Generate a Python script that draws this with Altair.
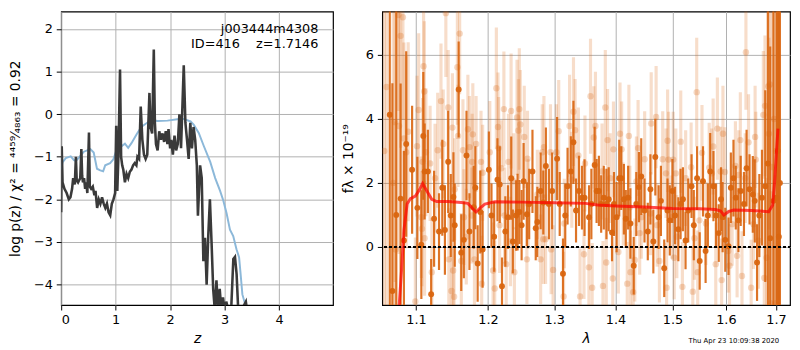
import altair as alt
import pandas as pd

FONT = "DejaVu Sans"

# ---------------- left panel: p(z) ----------------
z_pz = [0.0, 0.01, 0.025, 0.06, 0.10, 0.14, 0.17, 0.20, 0.22, 0.25, 0.27, 0.285, 0.31, 0.33, 0.35,
        0.37, 0.385, 0.40, 0.42, 0.44, 0.46, 0.48, 0.51, 0.525, 0.55, 0.58, 0.61, 0.63, 0.66, 0.69,
        0.72, 0.75, 0.78, 0.81, 0.84, 0.87, 0.90, 0.93, 0.96, 0.99, 1.01, 1.03, 1.05, 1.08, 1.10,
        1.12, 1.14, 1.17, 1.20, 1.23, 1.26, 1.29, 1.32, 1.35, 1.38, 1.40, 1.43, 1.46, 1.49, 1.52,
        1.55, 1.58, 1.62, 1.64, 1.67, 1.70, 1.72, 1.74, 1.77, 1.80, 1.83, 1.86, 1.89, 1.92, 1.95,
        1.97, 2.00, 2.02, 2.05, 2.08, 2.11, 2.14, 2.17, 2.20, 2.25, 2.28, 2.31, 2.34, 2.37, 2.40,
        2.43, 2.46, 2.49, 2.51, 2.55, 2.58, 2.61, 2.64, 2.67, 2.70, 2.73, 2.76, 2.79, 2.82, 2.85,
        2.88, 2.91, 2.94, 2.97, 3.00, 3.03, 3.07, 3.12, 3.16, 3.19, 3.22, 3.25, 3.30, 3.35, 3.39, 3.41]
logp = [-2.3, -0.75, -1.6, -1.75, -1.85, -2.0, -1.95, -1.75, -1.5, -1.65, -1.0, -1.55, -1.6, -1.55, -1.5,
        -0.82, -1.45, -1.6, -1.5, -1.75, -1.6, -1.85, -0.43, -1.7, -1.75, -1.7, -1.9, -1.8, -2.2, -2.0,
        -2.1, -1.95, -2.1, -2.2, -2.1, -2.3, -2.37, -2.1, -2.0, -1.85, -0.27, -1.8, -1.0, 1.05, -1.0,
        -1.2, -1.3, -1.6, -1.4, -1.5, -1.35, -1.3, -1.2, -1.15, -1.2, -1.0, -1.05, 0.18, -0.6, -0.95,
        -1.05, -0.95, 0.5, -0.3, -0.45, 1.52, -0.2, -0.7, -0.85, -0.4, -0.6, -0.45, -0.65, -0.4, -0.7,
        -0.35, -0.8, -0.6, -0.95, -0.5, -0.85, -0.7, 0.0, -0.8, 1.15, -0.2, -0.6, -1.05, -0.2, -0.8,
        -0.3, -0.6, -1.2, -2.38, -1.2, -1.5, -3.45, -2.9, -4.0, -2.85, -2.0, -3.0, -4.1, -4.6, -3.9,
        -4.6, -4.1, -4.6, -4.3, -4.6, -4.4, -4.6, -4.6, -3.4, -3.35, -3.75, -4.6, -4.6, -4.5, -4.4, -4.6]

z_prior = [0.0, 0.024, 0.084, 0.175, 0.235, 0.27, 0.325, 0.416, 0.536, 0.597, 0.657, 0.717, 0.77,
           0.808, 0.898, 0.958, 1.019, 1.109, 1.17, 1.23, 1.29, 1.38, 1.47, 1.59, 1.71, 1.77, 1.95,
           2.13, 2.25, 2.375, 2.435, 2.525, 2.616, 2.736, 2.827, 2.917, 2.977, 3.037, 3.098, 3.158,
           3.218, 3.266, 3.29, 3.326, 3.368, 3.40, 3.45]
logp_prior = [-1.3, -1.13, -1.03, -0.99, -1.08, -1.1, -1.02, -0.88, -0.82, -0.9, -1.28, -1.32, -1.34,
              -1.2, -1.15, -1.06, -0.83, -0.75, -0.69, -0.79, -0.68, -0.48, -0.30, -0.19, -0.15, -0.16,
              -0.15, -0.12, -0.11, -0.17, -0.25, -0.44, -0.74, -1.12, -1.5, -1.8, -2.03, -2.33, -2.71,
              -2.86, -3.17, -3.36, -3.7, -4.23, -4.42, -4.5, -4.7]

label_z = [4.72, 4.72]
label_v = [1.90, 1.55]
label_txt = ["j003444m4308", "ID=416\u00a0\u00a0\u00a0\u00a0z=1.7146"]

# ---------------- right panel: spectrum ----------------
lam_dark = [1.0656, 1.0690, 1.0740, 1.0797, 1.0840, 1.0870, 1.0948, 1.1018, 1.1071, 1.1097, 1.1115,
            1.1159, 1.1203, 1.1243, 1.1310, 1.1355, 1.1391, 1.1436, 1.1472, 1.1509, 1.1527, 1.1582,
            1.1618, 1.1655, 1.1692, 1.1734, 1.1795, 1.1818, 1.1851, 1.1889, 1.1922,
            1.2013, 1.2051, 1.2090, 1.2138, 1.2172, 1.2205, 1.2254, 1.2293, 1.2342, 1.2366, 1.2415,
            1.2437, 1.2464, 1.2498, 1.2528, 1.2578, 1.2613, 1.2663, 1.2713, 1.2738, 1.2789, 1.2830,
            1.2870, 1.2917, 1.2968, 1.3046, 1.3087, 1.3139, 1.3175, 1.3212, 1.3264, 1.3306, 1.3348,
            1.3396, 1.3444, 1.3486,
            1.3560, 1.3598, 1.3652, 1.3684, 1.3722, 1.3760, 1.3804, 1.3848, 1.3886, 1.3942, 1.3975,
            1.4019, 1.4064, 1.4098, 1.4143, 1.4176, 1.4216, 1.4255, 1.4312, 1.4357, 1.4403, 1.4443,
            1.4500, 1.4558, 1.4604, 1.4656, 1.4691, 1.4750, 1.4791, 1.4850, 1.4909, 1.4950, 1.4998,
            1.5046, 1.5106, 1.5147, 1.5190, 1.5238, 1.5287,
            1.5349, 1.5391, 1.5452, 1.5501, 1.5563, 1.5612, 1.5655, 1.5699, 1.5761, 1.5811, 1.5862,
            1.5906, 1.5937, 1.5988, 1.6051, 1.6096, 1.6147, 1.6192, 1.6244, 1.6289, 1.6353, 1.6405,
            1.6464, 1.6529, 1.6568, 1.6614, 1.6660, 1.6713, 1.6780, 1.6833, 1.6880, 1.6947, 1.7011,
            1.7058, 1.7035, 1.7080]
flux_dark = [4.13, -1.38, 1.0, 1.51, 0.2, 3.22, 2.41, 1.22, 0.07, 3.47, 2.36,
             2.36, -1.48, 0.88, 0.48, 1.85, 0.53, 2.66, 0.98, 1.56, 0.68, 4.92,
             -0.18, 0.22, 2.86, 0.48, 1.24, 1.85, -0.52, 1.09, -0.08,
             2.41, 0.98, 0.32, 2.10, 1.95, -1.23, 0.48, 0.93, 2.15, 0.17, 0.98,
             1.09, 1.09, 0.68, 2.05, 1.02, 1.34, 2.36, 0.58, 0.78, 1.75, 1.39,
             2.53, 1.34, 1.75, 2.76, 1.34, -0.84, 0.98, 1.90, 2.36, 3.27, 1.14,
             1.75, 1.54, 1.54,
             0.93, 1.34, 2.56, 1.75, 1.75, 1.34, 1.54, 1.34, 1.49, 0.45, 1.34,
             0.93, 2.15, 2.15, 1.49, 0.88, 1.54, 0.73, -0.59, 1.34, 1.87, 2.20,
             1.14, 0.48, 1.80, 0.17, 2.81, 0.93, 1.44, -0.67, 1.14, 0.83, 1.75,
             0.98, 0.55, 1.34, 1.49, 0.20, 1.14,
             1.90, 0.68, 2.15, -0.44, 2.05, -0.13, 0.98, 2.36, 1.90, 0.98, 0.43,
             1.49, 0.93, 0.22, 0.02, 1.85, 2.15, 1.54, 0.83, 1.75, 1.34, 2.46,
             1.80, 1.64, 1.44, -0.49, 0.98, 1.54, 1.90, 2.61, 0.27, 1.44, 1.54,
             0.32, 3.0, 2.0]
err_dark = [7.0, 6.5, 7.5, 3.6, 2.8, 2.9, 2.0, 1.6, 1.7, 2.0, 1.5,
            1.3, 1.1, 1.5, 1.2, 1.5, 1.4, 1.6, 1.3, 1.4, 1.3, 1.5,
            1.2, 1.2, 1.4, 1.2, 1.3, 1.3, 1.2, 1.3, 1.2,
            1.2, 1.0, 1.1, 1.3, 1.2, 0.9, 1.1, 1.0, 1.3, 1.0, 1.1,
            1.2, 1.0, 1.1, 1.2, 1.0, 1.1, 1.3, 1.0, 1.1, 1.2, 1.0,
            1.2, 1.1, 1.2, 1.3, 1.0, 1.1, 1.0, 1.2, 1.1, 1.3, 1.0,
            1.1, 1.0, 1.2,
            1.0, 1.1, 1.2, 1.0, 1.1, 0.9, 1.0, 1.1, 1.0, 0.9, 1.0,
            1.1, 1.2, 1.0, 1.1, 0.9, 1.0, 1.1, 0.9, 1.0, 1.1, 1.2,
            1.0, 0.9, 1.1, 1.0, 1.2, 1.0, 1.1, 0.9, 1.0, 1.1, 1.0,
            0.9, 1.0, 1.1, 1.0, 0.9, 1.0,
            1.0, 1.1, 1.0, 0.9, 1.1, 1.0, 1.0, 1.2, 1.1, 1.0, 0.9,
            1.0, 1.1, 1.0, 0.9, 1.1, 1.2, 1.0, 1.0, 1.1, 1.0, 1.2,
            1.1, 1.2, 1.3, 1.2, 1.3, 1.5, 3.0, 5.0, 6.0, 7.0, 9.0,
            8.0, 9.0, 9.0]

lam_light = [1.0767, 1.0827, 1.0797, 1.0724, 1.0776, 1.0840, 1.0896, 1.0870, 1.1013, 1.1035, 1.1101,
             1.1110, 1.1132, 1.1088, 1.1189, 1.1337, 1.1404, 1.1436, 1.1368, 1.1292, 1.1495, 1.1564,
             1.1596, 1.1573, 1.1642, 1.1712, 1.1735, 1.1782, 1.1829, 1.1923, 1.1899, 1.1772, 1.1079,
             1.1114, 1.1445, 1.1505, 1.1518, 1.1619, 1.1482, 1.0991, 1.1212, 1.1909, 1.0733, 1.1070,
             1.1256, 1.1527, 1.1656, 1.1768, 1.1689, 1.1805, 1.0585, 1.0615, 1.0700,
             1.2122, 1.2233, 1.2340, 1.2463, 1.2429, 1.2146, 1.2478, 1.2449, 1.2538, 1.2026, 1.2156,
             1.2301, 1.2194, 1.2380, 1.2587, 1.2840, 1.2814, 1.2942, 1.3071, 1.3035, 1.3244, 1.3307,
             1.3333, 1.3386, 1.3493, 1.3280, 1.2738, 1.2598, 1.2243, 1.2170, 1.2331, 1.2830, 1.2865,
             1.2952, 1.2578, 1.2789, 1.2389, 1.2267, 1.2074, 1.2098, 1.2983, 1.3413, 1.3477, 1.3149,
             1.3160,
             1.3584, 1.3829, 1.3665, 1.3638, 1.3867, 1.4077, 1.4229, 1.3966, 1.4105, 1.4388, 1.4618,
             1.4705, 1.4503, 1.4823, 1.4929, 1.5012, 1.4911, 1.5150, 1.5240, 1.4882, 1.5060, 1.3774,
             1.3911, 1.4359, 1.4133, 1.4246, 1.4445, 1.4607, 1.4416, 1.4723, 1.4988, 1.4049, 1.3845,
             1.4257, 1.4331, 1.4764, 1.4893, 1.3611, 1.3790, 1.3955, 1.4303, 1.5180, 1.3557, 1.4201,
             1.5030, 1.5078,
             1.6392, 1.5445, 1.6841, 1.6874, 1.6774, 1.6741, 1.5544, 1.5755, 1.5836, 1.5943, 1.6282,
             1.6444, 1.6589, 1.6575, 1.6854, 1.5341, 1.5680, 1.5730, 1.5899, 1.5981, 1.6185, 1.6250,
             1.6379, 1.5402, 1.5618, 1.5495, 1.6121, 1.6543, 1.6641, 1.5464, 1.5805, 1.5918, 1.6045,
             1.6070, 1.6218, 1.6314, 1.6807, 1.6760, 1.6496, 1.6894, 1.6989, 1.5372, 1.6920, 1.6960,
             1.7000]
flux_light = [7.25, 7.18, 6.6, 3.9, 3.78, 3.39, 3.6, 2.96, 3.15, 4.28, 5.65,
              4.86, 2.96, 2.66, 2.61, 4.56, 7.31, 4.36, 3.22, 3.02, 3.73, 5.62,
              6.67, 3.47, 3.02, 3.68, 3.12, 3.52, 3.22, 2.32, 2.66, 2.66, 0.57,
              0.27, -0.39, -0.74, -1.56, -0.44, -1.38, -1.71, -0.79, -1.15, -0.08, 0.93,
              2.15, 1.80, 0.93, 0.98, 0.32, -0.39, 3.0, 5.0, 2.0,
              4.96, 4.31, 4.25, 4.31, 4.05, 3.75, 3.83, 3.64, 3.44, 2.96, 3.09,
              2.66, 2.46, 2.05, 2.76, 3.12, 2.96, 2.96, 3.62, 2.96, 3.78, 4.23,
              3.65, 2.86, 2.61, 2.10, 1.64, 1.34, 0.98, 0.68, 0.17, 0.24, 0.24,
              -0.08, -0.39, -0.39, -0.79, -0.54, -0.74, -1.30, -0.72, -1.55, -0.23, -1.55,
              0.73,
              4.71, 4.36, 3.78, 3.42, 3.34, 3.54, 3.47, 3.05, 3.05, 3.09, 3.86,
              4.06, 2.74, 2.74, 2.73, 2.73, 3.32, 3.29, 2.15, 2.30, 2.30, 2.36,
              2.15, 2.05, 1.34, 1.24, 0.93, 1.04, 0.43, 0.68, 0.93, -0.16, -0.49,
              -0.79, -0.41, -0.44, -1.28, -1.28, -1.22, -0.99, -1.42, -1.25, -0.64, -1.15,
              -0.34, 0.32,
              6.09, 4.84, 5.02, 5.08, 4.41, 4.13, 2.94, 3.14, 3.70, 3.54, 3.34,
              3.27, 2.73, 3.44, 3.54, 2.49, 2.48, 2.30, 2.36, 2.34, 2.53, 2.25,
              2.15, 0.27, 0.73, 0.83, 0.71, 0.71, 0.19, -0.79, -0.54, -1.04, -0.13,
              -0.59, -0.28, -0.91, -0.34, -0.97, -1.28, -1.76, -1.76, -1.40, 2.5, 4.0,
              3.0]
err_light = [3.0, 3.2, 3.5, 5.0, 4.0, 3.0, 2.8, 3.0, 2.2, 2.4, 2.0,
             2.2, 2.0, 2.0, 1.8, 1.8, 2.0, 1.8, 1.7, 1.8, 1.7, 1.8,
             1.9, 1.6, 1.6, 1.7, 1.6, 1.6, 1.5, 1.5, 1.6, 1.5, 1.8,
             1.8, 1.6, 1.6, 1.5, 1.5, 1.6, 2.0, 1.7, 1.5, 4.0, 1.9,
             1.7, 1.6, 1.5, 1.5, 1.5, 1.5, 8.0, 8.0, 6.0,
             1.9, 1.8, 1.8, 1.9, 1.8, 1.7, 1.7, 1.6, 1.6, 1.6, 1.6,
             1.5, 1.5, 1.5, 1.5, 1.6, 1.5, 1.5, 1.6, 1.5, 1.6, 1.7,
             1.6, 1.5, 1.5, 1.5, 1.4, 1.4, 1.5, 1.5, 1.4, 1.4, 1.4,
             1.4, 1.4, 1.4, 1.4, 1.4, 1.5, 1.5, 1.4, 1.5, 1.4, 1.4,
             1.4,
             1.8, 1.8, 1.7, 1.6, 1.6, 1.6, 1.6, 1.5, 1.5, 1.5, 1.6,
             1.6, 1.5, 1.5, 1.5, 1.5, 1.6, 1.6, 1.5, 1.4, 1.4, 1.5,
             1.4, 1.4, 1.3, 1.3, 1.3, 1.3, 1.3, 1.3, 1.3, 1.3, 1.4,
             1.3, 1.3, 1.3, 1.4, 1.4, 1.4, 1.3, 1.4, 1.4, 1.4, 1.3,
             1.3, 1.3,
             1.8, 1.7, 2.5, 3.0, 2.2, 2.0, 1.5, 1.5, 1.6, 1.5, 1.5,
             1.5, 1.5, 1.6, 3.0, 1.4, 1.4, 1.4, 1.4, 1.4, 1.4, 1.4,
             1.4, 1.3, 1.3, 1.3, 1.3, 1.4, 1.5, 1.3, 1.3, 1.3, 1.3,
             1.3, 1.3, 1.4, 2.5, 2.0, 1.5, 3.5, 4.0, 1.4, 6.0, 6.0,
             7.0]

lam_model = [1.0776, 1.0810, 1.0841, 1.0882, 1.0926, 1.0991, 1.1036, 1.1088, 1.1145, 1.1211, 1.1278,
             1.1436, 1.1618, 1.1711, 1.1781, 1.1827, 1.1873, 1.1955, 1.2100, 1.2500, 1.3000, 1.3500,
             1.3700, 1.4000, 1.4500, 1.5000, 1.5500, 1.5800, 1.5900, 1.5960, 1.6050, 1.6150, 1.6500,
             1.6850, 1.6930, 1.6970, 1.7010, 1.7040]
flux_model = [-1.9, -0.7, 0.53, 1.34, 1.51, 1.59, 1.75, 1.98, 1.75, 1.49, 1.42,
              1.42, 1.39, 1.36, 1.19, 1.09, 1.19, 1.34, 1.41, 1.40, 1.38, 1.36,
              1.31, 1.28, 1.25, 1.20, 1.19, 1.17, 1.12, 1.0, 1.10, 1.15, 1.14,
              1.10, 1.3, 2.0, 3.0, 3.7]

timestamp = "Thu Apr 23 10:09:38 2020"

# ---------------- build ----------------
LW, RW, H = 276, 414, 298
ORANGE = "#d9650f"

pz = pd.DataFrame({"z": z_pz, "v": logp})
prior = pd.DataFrame({"z": z_prior, "v": logp_prior})
labels = pd.DataFrame({"z": label_z, "v": label_v, "t": label_txt})

xz = alt.X("z:Q", scale=alt.Scale(domain=[0, 4.99], nice=False, zero=False),
           axis=alt.Axis(values=[0, 1, 2, 3, 4], title="z", titleFontStyle="italic", titlePadding=5))
yz = alt.Y("v:Q", scale=alt.Scale(domain=[-4.48, 2.41], nice=False, zero=False),
           axis=alt.Axis(values=[-4, -3, -2, -1, 0, 1, 2],
                         title="log p(z) / χ² = ⁴⁴⁵⁹⁄₄₈₆₃ = 0.92", titlePadding=11))

prior_line = alt.Chart(prior).mark_line(color="#8cb8d9", strokeWidth=2, clip=True).encode(x=xz, y=yz)
pz_line = alt.Chart(pz).mark_line(color="#3a3a3a", strokeWidth=2.6, clip=True).encode(x=xz, y=yz)
lab = alt.Chart(labels).mark_text(align="right", baseline="alphabetic", fontSize=13, font=FONT,
                                  color="black").encode(x="z:Q", y="v:Q", text="t:N")
left = alt.layer(prior_line, pz_line, lab).properties(width=LW, height=H)

dark = pd.DataFrame({"lam": lam_dark, "f": flux_dark, "e": err_dark})
light = pd.DataFrame({"lam": lam_light, "f": flux_light, "e": err_light})
model = pd.DataFrame({"lam": lam_model, "f": flux_model})

xl = alt.X("lam:Q", scale=alt.Scale(type="log", domain=[1.056, 1.729], nice=False),
           axis=alt.Axis(values=[1.1, 1.2, 1.3, 1.4, 1.5, 1.6, 1.7], format=".1f", title="λ",
                         titleFontStyle="italic", titlePadding=5))
yl_scale = alt.Scale(domain=[-1.82, 7.36], nice=False, zero=False)
yl_axis = alt.Axis(values=[0, 2, 4, 6], title="fλ × 10⁻¹⁹", titlePadding=10)
yl = alt.Y("f:Q", scale=yl_scale, axis=yl_axis)

def errs(df, width, opacity):
    return alt.Chart(df).transform_calculate(
        lo="datum.f - datum.e", hi="datum.f + datum.e"
    ).mark_rule(color=ORANGE, strokeWidth=width, opacity=opacity, clip=True).encode(
        x=xl, y=alt.Y("lo:Q", scale=yl_scale, axis=yl_axis), y2="hi:Q")

light_bars = errs(light, 3.2, 0.22)
light_pts = alt.Chart(light).mark_circle(color=ORANGE, size=42, opacity=0.25, clip=True).encode(x=xl, y=yl)
dark_bars = errs(dark, 2.2, 0.9)
dark_pts = alt.Chart(dark).mark_circle(color=ORANGE, size=36, opacity=0.95, clip=True).encode(x=xl, y=yl)
zero = alt.Chart(model).mark_rule(color="black", strokeDash=[2, 3], strokeWidth=1.8).encode(
    y=alt.datum(0, scale=yl_scale, axis=yl_axis))
red = alt.Chart(model).mark_line(color="red", strokeWidth=3, opacity=0.7, clip=True).encode(x=xl, y=yl)
stamp = alt.Chart(pd.DataFrame({"t": [timestamp]})).mark_text(
    align="right", baseline="middle", fontSize=7, font=FONT, color="black").encode(
    x=alt.value(RW - 11), y=alt.value(H + 37), text="t:N")

right = alt.layer(light_bars, light_pts, dark_bars, dark_pts, zero, red, stamp).properties(width=RW, height=H)

chart = alt.hconcat(left, right, spacing=7).properties(
    padding={"left": 0, "top": 0, "right": 0, "bottom": 0}
).configure_view(stroke="black", strokeWidth=1.2).configure_axis(
    grid=True, gridColor="#b0b0b0", gridWidth=1, domain=False, tickColor="black", tickSize=5,
    labelFont=FONT, titleFont=FONT, labelFontSize=13, titleFontSize=14, labelColor="black",
    titleColor="black", titleFontWeight="normal", labelPadding=4
)

chart.save("out.html", embed_options={"renderer": "svg", "actions": False})
